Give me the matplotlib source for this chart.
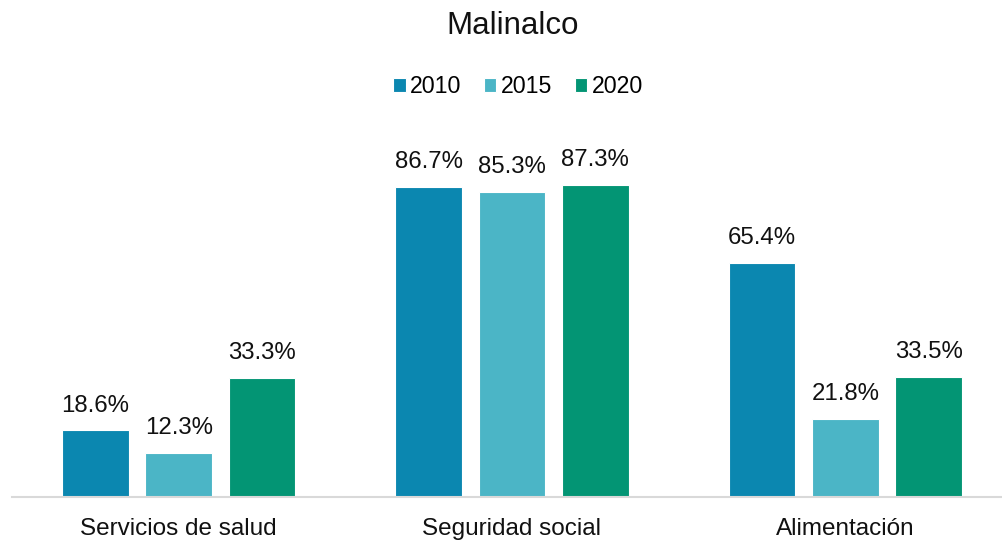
import matplotlib
matplotlib.use("Agg")
import matplotlib.pyplot as plt
import numpy as np

plt.rcParams['font.family'] = ['Liberation Sans', 'DejaVu Sans']

categories = ["Servicios de salud", "Seguridad social", "Alimentación"]
years = ["2010", "2015", "2020"]
v2010 = [18.6, 86.7, 65.4]
v2015 = [12.3, 85.3, 21.8]
v2020 = [33.3, 87.3, 33.5]
colors = ["#0B87B0", "#4BB5C6", "#039574"]

fig = plt.figure(figsize=(10.02, 5.4), dpi=100)
ax = fig.add_axes([12 / 1002, 43 / 540, 1000 / 1002, 357.6 / 540])

x = np.arange(len(categories))
width = 0.2
step = 0.25
for i, (vals, yr, col) in enumerate(zip([v2010, v2015, v2020], years, colors)):
    pos = x + (i - 1) * step
    bars = ax.bar(pos, vals, width, color=col, edgecolor="white", linewidth=0.8, label=yr)
    for b, v in zip(bars, vals):
        ax.annotate(f"{v:.1f}%", (b.get_x() + b.get_width() / 2, v),
                    xytext=(0, 10), textcoords="offset points",
                    ha="center", va="bottom", fontsize=17.3, color="#111111")

ax.set_xlim(-0.5, 2.5)
ax.set_ylim(0, 100)
ax.set_xticks(x)
ax.set_xticklabels(categories, fontsize=17.5, color="#111111")
ax.tick_params(axis="x", length=0, pad=15)
ax.set_yticks([])
for s in ["top", "right", "left"]:
    ax.spines[s].set_visible(False)
ax.spines["bottom"].set_color("#D9D9D9")
ax.spines["bottom"].set_linewidth(1.5)

fig.text(0.512, 0.951, "Malinalco", ha="center", va="center", fontsize=22.5, color="#111111")
fig.legend(loc="center", bbox_to_anchor=(0.517, 0.84), ncol=3, frameon=False,
           fontsize=16.7, handlelength=0.55, handleheight=0.55, handletextpad=0.2,
           columnspacing=0.95)

fig.savefig("out.png", dpi=100)
